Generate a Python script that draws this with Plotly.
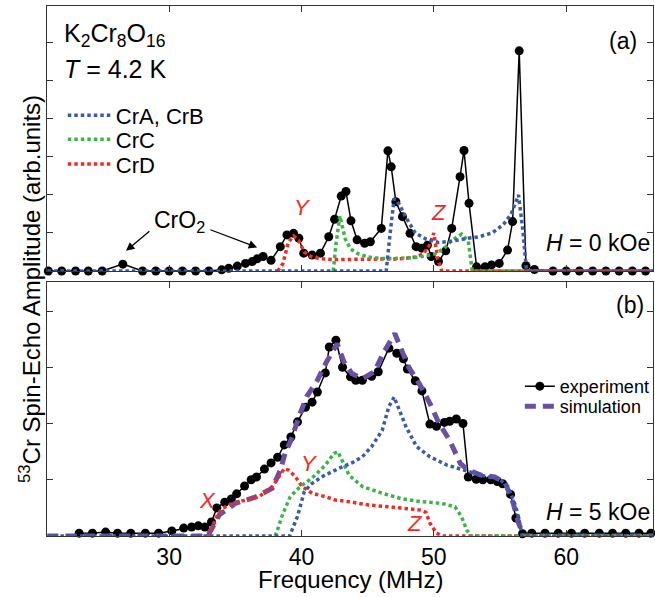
import plotly.graph_objects as go

# ---------------- Panel (a): H = 0 kOe ----------------
a_exp_x = [20.87, 21.88, 22.93, 23.89, 24.94, 26.5, 27.99, 28.99, 30.0, 31.0, 32.0, 33.0, 33.97,
           34.5, 35.15, 35.77, 36.28, 36.65, 37.1, 37.7, 38.4, 38.9, 39.4, 39.8, 40.17, 40.8, 41.43,
           42.06, 42.5, 43.0, 43.36, 43.74, 44.2, 44.77, 45.2, 46.03, 46.53, 46.78, 47.13, 47.63,
           48.2, 48.66, 49.09, 49.52, 49.8, 50.35, 50.9, 51.35, 51.98, 52.28, 52.66, 53.23, 53.86,
           54.36, 54.94, 55.57, 55.95, 56.45, 56.96, 57.6, 59.0, 60.0, 61.0, 62.0, 63.0, 64.0, 65.0, 66.0]
a_exp_y = [0, 0, 0, 0, 0, 0.18, 0, 0, 0, 0, 0, 0, 0.03,
           0.07, 0.13, 0.2, 0.25, 0.32, 0.38, 0.28, 0.64, 0.95, 0.99, 0.86, 0.47, 0.42, 0.47,
           0.9, 1.36, 1.97, 2.09, 1.32, 0.82, 0.73, 0.77, 1.12, 3.16, 2.74, 1.82, 1.43,
           0.99, 0.64, 0.6, 0.68, 0.38, 0.25, 0.53, 1.12, 2.48, 3.17, 1.78, 0.11, 0.11,
           0.16, 0.2, 0.55, 1.3, 5.79, 0.14, 0.04, 0, 0, 0, 0, 0, 0, 0, 0]

a_ab_x = [20.8, 46.4, 46.7, 47.0, 47.4, 47.9, 48.6, 49.4, 50.35, 51.3, 52.4, 53.4, 54.4, 55.25,
          55.85, 56.4, 56.75, 57.0, 66.6]
a_ab_y = [0, 0, 1.0, 1.9, 1.75, 1.4, 1.0, 0.84, 0.75, 0.78, 0.85, 0.9, 1.0, 1.22,
          1.5, 2.0, 1.0, 0, 0]

a_c_x = [42.4, 42.6, 42.9, 43.3, 43.7, 44.3, 45.0, 46.0, 47.0, 48.0, 48.8, 50.1, 50.8, 51.3,
         52.1, 52.6, 52.9, 66.6]
a_c_y = [0, 0.7, 1.45, 0.85, 0.58, 0.45, 0.37, 0.33, 0.33, 0.34, 0.36, 0.45, 0.6, 0.79,
         0.97, 0.79, 0, 0]

a_d_x = [38.2, 38.6, 39.0, 39.4, 39.8, 40.2, 40.7, 41.3, 42.5, 44.0, 46.0, 47.5, 48.5, 49.2,
         49.7, 50.0, 50.3, 50.6, 66.6]
a_d_y = [0, 0.2, 0.75, 0.92, 0.8, 0.5, 0.38, 0.33, 0.3, 0.3, 0.3, 0.32, 0.36, 0.45,
         0.7, 1.0, 0.3, 0, 0]

# ---------------- Panel (b): H = 5 kOe ----------------
b_exp_x = [23.2, 24.2, 25.2, 26.1, 27.1, 28.2, 29.2, 30.2, 31.1, 31.7, 32.2, 32.7, 33.2, 33.6,
           34.2, 34.7, 35.1, 35.7, 36.2, 36.6, 37.2, 37.7, 38.2, 38.7, 39.2, 39.7, 40.3, 40.8,
           41.2, 41.8, 42.1, 42.6, 43.1, 43.7, 44.1, 44.6, 45.3, 45.8, 46.6, 47.2, 47.7, 48.0,
           48.6, 49.1, 49.7, 50.2, 50.8, 51.2, 51.7, 52.2, 52.6, 53.2, 53.7, 54.3, 54.8, 55.2,
           55.8, 56.2, 56.7, 57.4, 58.4, 59.4, 60.4, 61.4, 62.5, 63.5, 64.5, 65.5, 66.4]
b_exp_y = [0.05, 0.05, 0.07, 0.05, 0.05, 0.05, 0.05, 0.09, 0.14, 0.16, 0.18, 0.16, 0.25, 0.5,
           0.6, 0.66, 0.75, 0.89, 1.0, 1.05, 1.19, 1.3, 1.4, 1.62, 1.76, 2.03, 2.29, 2.38,
           2.56, 2.9, 3.36, 3.48, 3.0, 2.83, 2.77, 2.77, 2.84, 2.92, 3.34, 3.25, 3.15, 2.97,
           2.76, 2.58, 1.99, 1.95, 2.02, 2.04, 2.08, 2.0, 1.05, 1.01, 1.0, 1.0, 0.97, 0.93,
           0.74, 0.32, 0.04, 0.05, 0.05, 0.05, 0.05, 0.05, 0.05, 0.05, 0.05, 0.05, 0.05]

b_sim_x = [20.8, 32.9, 33.2, 33.8, 35.0, 36.5, 37.8, 38.4, 38.8, 39.2, 39.9, 40.4, 41.2, 41.9,
           42.7, 43.2, 43.8, 44.6, 45.5, 46.25, 47.05, 47.6, 48.1, 48.9, 49.7, 50.4, 51.2, 52.0,
           52.6, 53.6, 54.6, 55.4, 56.0, 56.4, 56.8, 66.6]
b_sim_y = [0, 0, 0.12, 0.38, 0.58, 0.69, 0.85, 1.17, 1.5, 1.7, 2.18, 2.48, 2.77, 3.1,
           3.42, 3.1, 2.89, 2.8, 2.92, 3.28, 3.6, 3.3, 3.0, 2.71, 2.36, 2.0, 1.7, 1.29,
           1.17, 1.08, 1.05, 0.94, 0.58, 0.23, 0.0, 0]

b_ab_x = [20.8, 39.1, 39.7, 40.2, 40.7, 41.6, 42.8, 43.8, 44.6, 45.3, 46.1, 46.6, 47.0, 47.4,
          47.9, 48.7, 49.7, 51.0, 52.2, 53.6, 55.0, 55.6, 56.2, 56.7, 66.6]
b_ab_y = [0, 0, 0.35, 0.78, 0.92, 1.06, 1.2, 1.3, 1.41, 1.59, 1.88, 2.3, 2.47, 2.24,
          1.94, 1.59, 1.41, 1.26, 1.17, 1.08, 1.0, 0.88, 0.52, 0, 0]

b_c_x = [38.0, 38.15, 38.5, 39.15, 39.9, 40.8, 41.8, 42.45, 42.75, 43.1, 43.6, 44.6, 46.1, 47.6,
         49.1, 50.6, 51.6, 52.1, 52.5, 52.8, 66.6]
b_c_y = [0, 0.08, 0.34, 0.7, 0.88, 1.03, 1.26, 1.47, 1.5, 1.33, 1.08, 0.88, 0.76, 0.66,
         0.61, 0.58, 0.52, 0.34, 0.1, 0, 0]

b_d_x = [32.9, 33.1, 33.65, 34.0, 34.8, 35.8, 36.8, 37.8, 38.3, 38.7, 39.05, 39.55, 40.05, 40.8,
         41.8, 42.55, 43.6, 45.1, 46.6, 48.1, 49.0, 49.4, 49.7, 50.2, 50.7, 66.6]
b_d_y = [0, 0.08, 0.37, 0.49, 0.58, 0.64, 0.7, 0.88, 1.05, 1.2, 1.17, 1.05, 0.88, 0.76,
         0.7, 0.64, 0.61, 0.55, 0.52, 0.49, 0.46, 0.42, 0.23, 0.05, 0, 0]

x_ticks = [30, 40, 50, 60]
x_tick_labels = ["30", "40", "50", "60"]
a_y_ticks = [1, 2, 3, 4, 5, 6]
b_y_ticks = [1, 2, 3, 4]

BLUE = "#3b5aa8"
GREEN = "#3cb44b"
RED = "#ee2b24"
PURPLE = "#6a4fa3"
DOT = "3.5px,3px"
FONT = "Liberation Sans, Arial, Helvetica, sans-serif"

fig = go.Figure()

# panel a
fig.add_trace(go.Scatter(x=a_exp_x, y=a_exp_y, mode="lines+markers", xaxis="x", yaxis="y",
                         line=dict(color="black", width=1.5), marker=dict(color="black", size=9),
                         showlegend=False, cliponaxis=False))
fig.add_trace(go.Scatter(x=a_d_x, y=a_d_y, mode="lines", xaxis="x", yaxis="y", name="CrD",
                         line=dict(color=RED, width=3.5, dash=DOT), legend="legend3",
                         cliponaxis=False))
fig.add_trace(go.Scatter(x=a_c_x, y=a_c_y, mode="lines", xaxis="x", yaxis="y", name="CrC",
                         line=dict(color=GREEN, width=3.5, dash=DOT), legend="legend2",
                         cliponaxis=False))
fig.add_trace(go.Scatter(x=a_ab_x, y=a_ab_y, mode="lines", xaxis="x", yaxis="y", name="CrA, CrB",
                         line=dict(color=BLUE, width=3.5, dash=DOT), legend="legend",
                         cliponaxis=False))

# panel b
fig.add_trace(go.Scatter(x=b_exp_x, y=b_exp_y, mode="lines+markers", xaxis="x2", yaxis="y2",
                         name="experiment", legend="legend4",
                         line=dict(color="black", width=1.5), marker=dict(color="black", size=9),
                         cliponaxis=False))
fig.add_trace(go.Scatter(x=b_sim_x, y=b_sim_y, mode="lines", xaxis="x2", yaxis="y2",
                         name="simulation", legend="legend5",
                         line=dict(color=PURPLE, width=5, dash="11px,7px"), cliponaxis=False))
fig.add_trace(go.Scatter(x=b_d_x, y=b_d_y, mode="lines", xaxis="x2", yaxis="y2",
                         line=dict(color=RED, width=3.5, dash=DOT), showlegend=False, cliponaxis=False))
fig.add_trace(go.Scatter(x=b_c_x, y=b_c_y, mode="lines", xaxis="x2", yaxis="y2",
                         line=dict(color=GREEN, width=3.5, dash=DOT), showlegend=False, cliponaxis=False))
fig.add_trace(go.Scatter(x=b_ab_x, y=b_ab_y, mode="lines", xaxis="x2", yaxis="y2",
                         line=dict(color=BLUE, width=3.5, dash=DOT), showlegend=False, cliponaxis=False))

axis_common = dict(showgrid=False, zeroline=False, showline=True, linecolor="#333",
                   linewidth=1.2, mirror="ticks", ticks="inside", ticklen=6, tickwidth=1,
                   tickcolor="#333")
xr = [20.77, 66.56]

def leg(x, y, size, itemwidth=30):
    return dict(x=x, y=y, xanchor="left", yanchor="top", font=dict(size=size),
                bgcolor="rgba(0,0,0,0)", itemwidth=itemwidth)

fig.update_layout(
    width=655, height=597,
    margin=dict(l=47, r=1, t=6, b=61),
    plot_bgcolor="white", paper_bgcolor="white",
    font=dict(family=FONT, size=23, color="black"),
    xaxis=dict(domain=[0, 1], range=xr, anchor="y", tickvals=x_ticks, showticklabels=False,
               **axis_common),
    yaxis=dict(domain=[0.5, 1], range=[0, 6.97], anchor="x", tickvals=a_y_ticks,
               showticklabels=False, **axis_common),
    xaxis2=dict(domain=[0, 1], range=xr, anchor="y2", tickvals=x_ticks, ticktext=x_tick_labels,
                tickfont=dict(size=23), **axis_common),
    yaxis2=dict(domain=[0, 0.4792], range=[0, 4.516], anchor="x2", tickvals=b_y_ticks,
                showticklabels=False, **axis_common),
    legend=leg(0.026, 0.833, 22, 43),
    legend2=leg(0.026, 0.788, 22, 43),
    legend3=leg(0.026, 0.741, 22, 43),
    legend4=leg(0.779, 0.317, 18),
    legend5=leg(0.779, 0.279, 18),
)

ann = []
def add_text(text, x, y, xref, yref, xanchor="center", size=23, color="black", yanchor="middle"):
    ann.append(dict(text=text, x=x, y=y, xref=xref, yref=yref, showarrow=False,
                    xanchor=xanchor, yanchor=yanchor, font=dict(size=size, color=color)))

add_text("K<sub>2</sub>Cr<sub>8</sub>O<sub>16</sub>", 21.9, 6.2, "x", "y", xanchor="left", size=25)
add_text("<i>T</i> = 4.2 K", 21.9, 5.3, "x", "y", xanchor="left", size=25)
add_text("(a)", 65.5, 6.05, "x", "y", xanchor="right", size=23)
add_text("<i>H</i> = 0 kOe", 66.45, 0.74, "x", "y", xanchor="right", size=23)
add_text("<i>Y</i>", 40.0, 1.68, "x", "y", size=22, color=RED)
add_text("<i>Z</i>", 50.4, 1.53, "x", "y", size=22, color=RED)
add_text("CrO<sub>2</sub>", 30.75, 1.3, "x", "y", size=23)
add_text("(b)", 66.0, 4.1, "x2", "y2", xanchor="right", size=23)
add_text("<i>H</i> = 5 kOe", 66.45, 0.42, "x2", "y2", xanchor="right", size=23)
add_text("<i>X</i>", 32.9, 0.64, "x2", "y2", size=22, color=RED)
add_text("<i>Y</i>", 40.55, 1.29, "x2", "y2", size=22, color=RED)
add_text("<i>Z</i>", 48.6, 0.22, "x2", "y2", size=22, color=RED)
add_text("Frequency (MHz)", 0.5, -0.083, "paper", "paper", size=24)
ann.append(dict(text="<sup>53</sup>Cr Spin-Echo Amplitude (arb.units)", x=-0.028, y=0.466,
                xref="paper", yref="paper", showarrow=False, textangle=-90,
                xanchor="center", yanchor="middle", font=dict(size=24)))
# CrO2 arrows
for (hx, hy, tx, ty) in [(26.74, 0.53, 28.62, 1.08), (36.65, 0.62, 33.0, 1.1)]:
    ann.append(dict(text="", x=hx, y=hy, ax=tx, ay=ty, xref="x", yref="y", axref="x", ayref="y",
                    showarrow=True, arrowhead=2, arrowsize=1.3, arrowwidth=1.3, arrowcolor="black"))
fig.update_layout(annotations=ann)

fig.write_html("out.html")
